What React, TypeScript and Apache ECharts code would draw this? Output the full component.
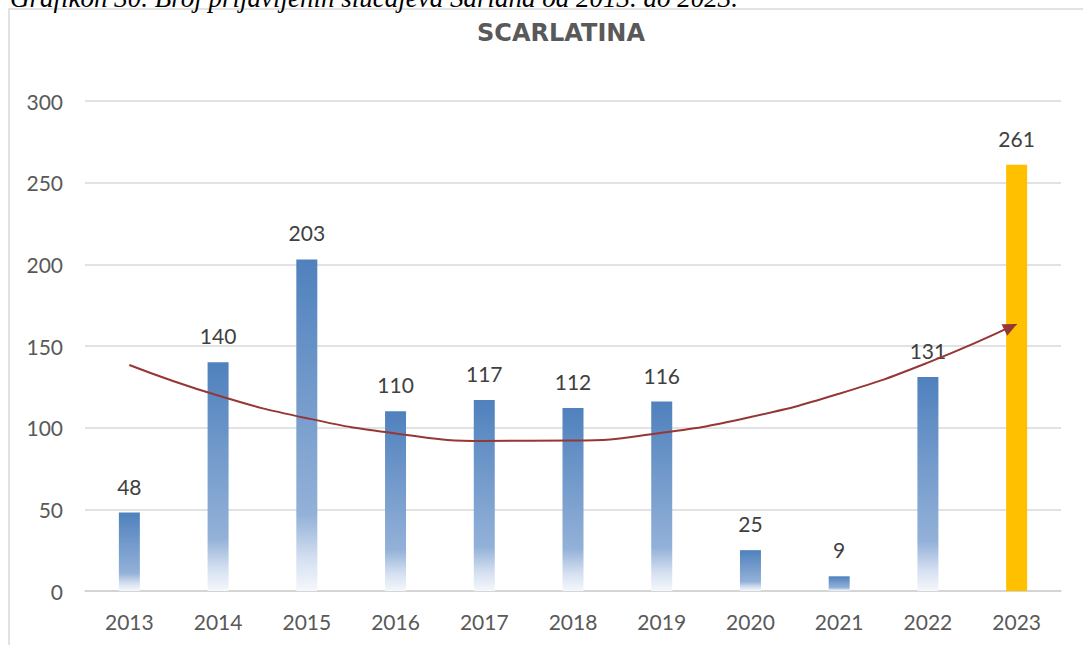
import React, { useEffect, useRef } from "react";
import * as echarts from "echarts";

const years = ["2013", "2014", "2015", "2016", "2017", "2018", "2019", "2020", "2021", "2022", "2023"];
const cases = [48, 140, 203, 110, 117, 112, 116, 25, 9, 131, 261];
// polynomial (order 2) trendline, values at each year
const trend = [138.4, 119.7, 105.8, 96.5, 91.9, 92.1, 96.9, 106.5, 120.8, 139.8, 163.5];
const yTicks = [0, 50, 100, 150, 200, 250, 300];
const highlightYear = "2023";

const FONT = "Lato, 'Open Sans', sans-serif";

export default function App() {
  const ref = useRef<HTMLDivElement>(null);
  useEffect(() => {
    if (!ref.current) return;
    const chart = echarts.init(ref.current, undefined, { renderer: "svg" });
    const blueGrad = new echarts.graphic.LinearGradient(0, 0, 0, 1, [
      { offset: 0, color: "#4F81BD" },
      { offset: 0.77, color: "#93B1D8" },
      { offset: 0.9, color: "#D3DFF0" },
      { offset: 1, color: "#F5F8FC" },
    ]);
    const barData = cases.map((v, i) =>
      years[i] === highlightYear
        ? { value: v, itemStyle: { color: "#FFC000" } }
        : { value: v, itemStyle: { color: blueGrad } }
    );
    const last = trend.length - 1;
    const trendData = trend.map((v, i) =>
      i === last
        ? {
            value: v,
            symbol: "triangle",
            symbolSize: [13, 14],
            symbolRotate: -64,
            symbolOffset: [-6, 3],
            itemStyle: { color: "#953735" },
          }
        : { value: v, symbol: "none" }
    );
    chart.setOption({
      animation: false,
      backgroundColor: "#ffffff",
      textStyle: { fontFamily: FONT },
      grid: { left: 85, right: 22, top: 101, bottom: 54, containLabel: false },
      graphic: [
        {
          type: "rect",
          shape: { x: 9, y: 9, width: 1200, height: 800 },
          style: { fill: "none", stroke: "#d9d9d9", lineWidth: 1.5 },
          silent: true,
          z: -1,
        },
        {
          type: "text",
          x: 10,
          y: -2,
          style: {
            text: "Grafikon 30. Broj prijavljenih slučajeva Šarlaha od 2013. do 2023.",
            font: "italic 27px 'Liberation Serif', 'Times New Roman', serif",
            fill: "#000000",
            verticalAlign: "middle",
            align: "left",
          },
        },
        {
          type: "text",
          x: 561,
          y: 33,
          style: {
            text: "SCARLATINA",
            font: "bold 24px 'DejaVu Sans', sans-serif",
            fill: "#595959",
            align: "center",
            verticalAlign: "middle",
          },
        },
      ],
      xAxis: {
        type: "category",
        data: years,
        boundaryGap: true,
        axisLine: { show: true, lineStyle: { color: "#d0d0d0", width: 1.5 } },
        axisTick: { show: false },
        axisLabel: { color: "#595959", fontSize: 21, margin: 20, fontFamily: FONT },
        splitLine: { show: false },
      },
      yAxis: {
        type: "value",
        min: yTicks[0],
        max: yTicks[yTicks.length - 1],
        interval: yTicks[1] - yTicks[0],
        axisLine: { show: false },
        axisTick: { show: false },
        axisLabel: { color: "#595959", fontSize: 21, margin: 22, fontFamily: FONT },
        splitLine: { lineStyle: { color: "#d9d9d9", width: 1.5 } },
      },
      series: [
        {
          type: "bar",
          data: barData,
          barWidth: 21,
          label: {
            show: true,
            position: "top",
            distance: 16,
            color: "#404040",
            fontSize: 21,
            fontFamily: FONT,
          },
          z: 2,
        },
        {
          type: "line",
          data: trendData,
          smooth: 0.5,
          symbol: "none",
          showSymbol: true,
          lineStyle: { color: "#953735", width: 2 },
          itemStyle: { color: "#953735" },
          label: { show: false },
          z: 3,
        },
      ],
    });
    return () => chart.dispose();
  }, []);
  return (
    <div
      ref={ref}
      style={{ position: "fixed", left: 0, top: 0, width: 1083, height: 645, background: "#fff" }}
    />
  );
}
